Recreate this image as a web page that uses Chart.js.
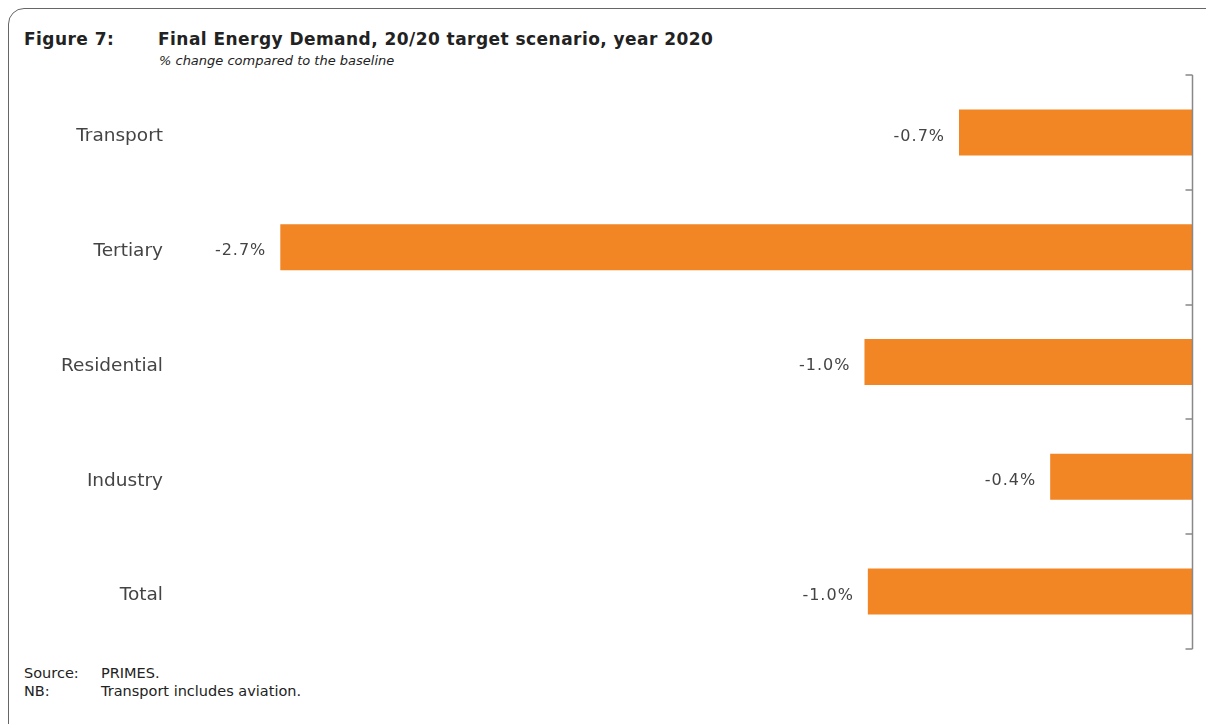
<!DOCTYPE html>
<html>
<head>
<meta charset="utf-8">
<script src="https://cdn.jsdelivr.net/npm/chart.js@4.4.0/dist/chart.umd.min.js"></script>
<style>
    body { margin: 0; background: #fff; font-family: "DejaVu Sans", sans-serif; color: #222; }
    #page { position: relative; width: 1206px; height: 724px; overflow: hidden; }
    #frame { position: absolute; left: 8px; top: 8px; width: 1230px; height: 740px; border: 1px solid #666; border-radius: 16px; }
    .fig-num { position: absolute; left: 24px; top: 29px; font-weight: bold; font-size: 17px; letter-spacing: 0.45px; }
    .fig-title { position: absolute; left: 158px; top: 29px; font-weight: bold; font-size: 17px; letter-spacing: 0.45px; }
    .fig-sub { position: absolute; left: 159px; top: 53px; font-style: italic; font-size: 13px; }
    .note { position: absolute; font-size: 14.5px; }
    #grafico { position: absolute; left: 0; top: 56px; }
</style>
</head>
<body>
<div id="page">
    <div id="frame"></div>
    <div class="fig-num">Figure 7:</div>
    <div class="fig-title">Final Energy Demand, 20/20 target scenario, year 2020</div>
    <div class="fig-sub">% change compared to the baseline</div>
    <div class="note" style="left:24px; top:665px;">Source:</div>
    <div class="note" style="left:101px; top:665px;">PRIMES.</div>
    <div class="note" style="left:24px; top:683px;">NB:</div>
    <div class="note" style="left:101px; top:683px;">Transport includes aviation.</div>
    <canvas id="grafico" width="1206" height="612"></canvas>
</div>
<script>
// ================= DADOS =================
const setores = ["Transport", "Tertiary", "Residential", "Industry", "Total"];
const variacao = [-0.69, -2.7, -0.97, -0.42, -0.96];

const corBarra = "#F28524";
const corTexto = "#444";

// ================= PLUGINS =================
// eixo vertical no zero, com marcas entre as categorias
const eixoZero = {
    id: "eixoZero",
    afterDatasetsDraw(chart) {
        const { ctx, scales: { x, y } } = chart;
        const px = Math.round(x.getPixelForValue(0)) + 0.5;
        const passo = (y.bottom - y.top) / setores.length;
        ctx.save();
        ctx.strokeStyle = "#888";
        ctx.lineWidth = 1.5;
        ctx.beginPath();
        ctx.moveTo(px, y.top);
        ctx.lineTo(px, y.bottom);
        for (let i = 0; i <= setores.length; i++) {
            const py = Math.round(y.top + i * passo);
            ctx.moveTo(px - 7, py);
            ctx.lineTo(px, py);
        }
        ctx.stroke();
        ctx.restore();
    }
};

// rotulos de valor a esquerda de cada barra
const rotulos = {
    id: "rotulos",
    afterDatasetsDraw(chart) {
        const { ctx } = chart;
        const meta = chart.getDatasetMeta(0);
        ctx.save();
        ctx.font = "16px 'DejaVu Sans'";
        ctx.fillStyle = corTexto;
        ctx.textAlign = "right";
        ctx.textBaseline = "middle";
        ctx.letterSpacing = "1px";
        meta.data.forEach((barra, i) => {
            const texto = variacao[i].toFixed(1) + "%";
            ctx.fillText(texto, barra.x - 14, barra.y + 4);
        });
        ctx.restore();
    }
};

// ================= GRAFICO =================
const ctx = document.getElementById("grafico").getContext("2d");
new Chart(ctx, {
    type: "bar",
    data: {
        labels: setores,
        datasets: [{
            data: variacao,
            backgroundColor: corBarra,
            borderWidth: 0,
            barPercentage: 0.4,
            categoryPercentage: 1.0
        }]
    },
    options: {
        indexAxis: "y",
        responsive: false,
        animation: false,
        layout: { padding: { left: 0, right: 14, top: 0, bottom: 0 } },
        plugins: {
            legend: { display: false },
            tooltip: { enabled: false }
        },
        scales: {
            x: {
                min: -3,
                max: 0,
                display: false
            },
            y: {
                position: "left",
                grid: { display: false },
                border: { display: false },
                ticks: {
                    color: corTexto,
                    font: { family: "DejaVu Sans", size: 18.5 },
                    padding: 8,
                    labelOffset: 4
                },
                afterFit(scale) { scale.width = 179; }
            }
        }
    },
    plugins: [eixoZero, rotulos]
});
</script>
</body>
</html>
